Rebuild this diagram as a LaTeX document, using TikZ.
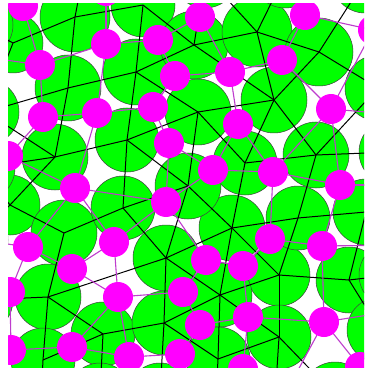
\documentclass[tikz,border=0pt]{standalone}
\definecolor{gfill}{RGB}{0,255,0}
\definecolor{mfill}{RGB}{255,0,255}
\definecolor{mline}{RGB}{190,60,205}
\tikzset{
  disc/.style={fill=gfill, draw=black!75, line width=0.5pt},
  edge/.style={draw=black, line width=1pt},
  bond/.style={draw=mline, line width=1.1pt},
  pball/.style={fill=mfill}
}
\begin{document}
\begin{tikzpicture}[x=1pt,y=-1pt]
\useasboundingbox (0,0) rectangle (364,371);
\fill[white] (0,0) rectangle (364,371);
\clip (8,4) rectangle (364,367);
% green centres
\coordinate (g1) at (75,17);
\coordinate (g2) at (68,88);
\coordinate (g3) at (13,43);
\coordinate (g4) at (143,5);
\coordinate (g5) at (136,72);
\coordinate (g6) at (194,45);
\coordinate (g7) at (198,112);
\coordinate (g8) at (257,32);
\coordinate (g9) at (319,52);
\coordinate (g10) at (274,100);
\coordinate (g11) at (55,157);
\coordinate (g12) at (10,205);
\coordinate (g13) at (64,233);
\coordinate (g14) at (123,208);
\coordinate (g15) at (166,258);
\coordinate (g16) at (48,297);
\coordinate (g17) at (103,334);
\coordinate (g18) at (164,323);
\coordinate (g19) at (43,360);
\coordinate (g20) at (316,155);
\coordinate (g21) at (245,163);
\coordinate (g22) at (127,140);
\coordinate (g23) at (232,228);
\coordinate (g24) at (188,186);
\coordinate (g25) at (279,275);
\coordinate (g26) at (220,295);
\coordinate (g27) at (349,280);
\coordinate (g28) at (279,337);
\coordinate (g29) at (218,359);
\coordinate (g31) at (85,-35);
\coordinate (g32) at (-20,25);
\coordinate (g33) at (-14,112);
\coordinate (g34) at (205,-25);
\coordinate (g35) at (285,-25);
\coordinate (g36) at (365,-20);
\coordinate (g37) at (378,88);
\coordinate (g38) at (392,152);
\coordinate (g39) at (366,212);
\coordinate (g40) at (-25,240);
\coordinate (g41) at (-20,300);
\coordinate (g42) at (100,395);
\coordinate (g43) at (160,395);
\coordinate (g44) at (275,400);
\coordinate (g45) at (380,330);
\coordinate (g46) at (40,420);
\coordinate (g47) at (215,420);
\coordinate (g48) at (298,218);
\coordinate (g49) at (-18,168);
\coordinate (g50) at (392,275);
\coordinate (g51) at (335,395);
% discs
\foreach \g/\r in {1/35,2/33,3/30,4/32,5/33,6/34,7/33,8/35,9/34,10/33,11/33,12/30,13/33,14/32,15/33,16/33,17/32,18/32,19/32,20/33,21/32,22/32,23/33,24/33,25/31,26/32,27/33,28/32,29/32,31/33,32/33,33/33,34/33,35/33,36/33,37/33,38/33,39/33,40/33,41/33,42/32,43/32,44/32,45/33,46/33,47/33,48/32,49/33,50/33,51/33}
  \filldraw[disc] (g\g) circle (\r);
% edges
\foreach \a/\b in {3/1,1/31,1/4,1/2,2/33,2/5,2/11,3/32,3/33,4/5,4/6,5/6,5/7,5/22,6/34,6/8,6/10,8/34,8/35,8/9,8/10,9/36,9/37,9/10,10/7,10/21,10/20,7/22,7/21,7/24,11/33,11/22,11/12,22/14,22/24,24/14,24/23,24/15,21/23,21/20,20/38,20/37,20/48,48/23,48/25,48/39,23/15,23/25,23/26,12/13,12/40,12/49,11/49,13/14,13/16,14/15,16/41,16/15,16/17,16/19,17/18,17/42,15/18,15/26,18/26,18/29,18/43,26/25,26/28,26/29,25/27,25/28,27/39,27/45,27/50,28/29,28/44,28/51,29/47,19/46,17/19}
  \draw[edge] (g\a) -- (g\b);
% magenta particles
\coordinate (m0) at (106,-9);
\coordinate (m1) at (23,6);
\coordinate (m2) at (106,44);
\coordinate (m3) at (158,40);
\coordinate (m4) at (40,65);
\coordinate (m5) at (200,17);
\coordinate (m6) at (305,15);
\coordinate (m7) at (175,76);
\coordinate (m8) at (230,72);
\coordinate (m9) at (282,60);
\coordinate (m10) at (373,30);
\coordinate (m11) at (43,117);
\coordinate (m12) at (97,113);
\coordinate (m13) at (153,107);
\coordinate (m14) at (238,124);
\coordinate (m15) at (331,109);
\coordinate (m16) at (8,156);
\coordinate (m17) at (169,143);
\coordinate (m18) at (75,188);
\coordinate (m19) at (213,170);
\coordinate (m20) at (273,172);
\coordinate (m21) at (340,185);
\coordinate (m22) at (166,202);
\coordinate (m23) at (28,247);
\coordinate (m24) at (114,242);
\coordinate (m25) at (72,269);
\coordinate (m26) at (206,260);
\coordinate (m27) at (243,266);
\coordinate (m28) at (270,239);
\coordinate (m29) at (322,246);
\coordinate (m30) at (10,292);
\coordinate (m31) at (118,297);
\coordinate (m32) at (183,292);
\coordinate (m33) at (200,325);
\coordinate (m34) at (248,317);
\coordinate (m35) at (324,322);
\coordinate (m36) at (11,350);
\coordinate (m37) at (72,347);
\coordinate (m38) at (129,357);
\coordinate (m39) at (180,354);
\coordinate (m40) at (243,369);
\coordinate (m41) at (360,367);
\coordinate (m51) at (-15,57);
\coordinate (m52) at (400,185);
\coordinate (m53) at (400,115);
\coordinate (m54) at (400,245);
\coordinate (m55) at (400,310);
\coordinate (m56) at (290,385);
\coordinate (m57) at (-20,240);
\foreach \a/\b in {0/2,1/4,4/2,4/11,2/3,3/5,3/7,5/8,7/8,7/13,8/14,6/9,6/10,9/15,15/10,8/9,2/12,11/12,12/13,13/17,11/16,16/18,12/18,17/19,17/22,19/22,19/14,19/20,18/22,18/24,18/23,22/24,22/26,14/20,20/15,20/21,15/21,20/28,21/29,28/27,26/27,28/29,27/34,29/35,34/35,35/41,33/34,32/26,32/33,31/32,33/39,38/39,34/40,23/25,24/25,25/31,24/31,23/30,30/36,37/31,36/37,37/38,31/38,4/51,21/52,15/53,29/54,35/55,35/56,23/57}
  \draw[bond] (m\a) -- (m\b);
\foreach \m in {0,...,41}
  \fill[pball] (m\m) circle (15);
\end{tikzpicture}
\end{document}
